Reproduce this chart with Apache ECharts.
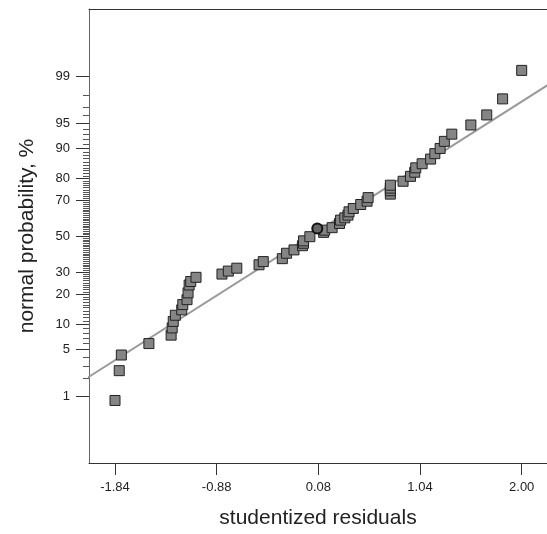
<!DOCTYPE html>
<html>
<head>
<meta charset="utf-8">
<script src="https://cdn.jsdelivr.net/npm/echarts@6/dist/echarts.min.js"></script>
<style>
html,body{margin:0;padding:0;background:#fff;}
#chart{width:547px;height:534px;}
</style>
</head>
<body>
<div id="chart"></div>
<script>
// ---- data ----
const residuals = [-1.84, -1.80, -1.78, -1.52, -1.31, -1.30, -1.29, -1.27, -1.21, -1.20,
  -1.16, -1.15, -1.14, -1.125, -1.075, -0.83, -0.77, -0.69, -0.48, -0.44,
  -0.26, -0.22, -0.15, -0.07, -0.06, -0.06, 0.00, 0.13, 0.14, 0.21,
  0.28, 0.29, 0.33, 0.36, 0.37, 0.41, 0.48, 0.54, 0.55, 0.76,
  0.76, 0.76, 0.76, 0.88, 0.95, 0.99, 1.00, 1.06, 1.14, 1.18,
  1.23, 1.27, 1.34, 1.52, 1.67, 1.82, 2.00];
const probabilities = [0.86, 2.56, 4.25, 5.98, 7.58, 9.19, 10.84, 12.6, 14.3, 16.1,
  17.9, 20.6, 24.0, 25.6, 27.6, 29.2, 30.7, 32.2, 34.0, 35.7,
  37.3, 40.3, 42.2, 44.6, 46.0, 47.4, 49.8, 52.3, 53.6, 55.0,
  57.4, 59.3, 60.6, 62.1, 63.9, 65.7, 67.8, 69.5, 71.3, 73.0,
  74.6, 75.8, 77.1, 78.8, 80.8, 82.4, 84.0, 85.4, 86.9, 88.5,
  89.9, 91.6, 93.1, 94.7, 96.1, 97.7, 99.2];
const highlightX = [0.07];
const highlightP = [54.5];
const refLineX = [-2.1, 2.35];
const refLineP = [2.01, 98.92];
const xTickValues = [-1.84, -0.88, 0.08, 1.04, 2.00];
const yMajorPct = [1, 5, 10, 20, 30, 50, 70, 80, 90, 95, 99];
const yMinorPct = [2, 3, 4, 6, 7, 8, 9,
  11, 12, 13, 14, 15, 16, 17, 18, 19,
  21, 22, 23, 24, 25, 26, 27, 28, 29,
  31, 32, 33, 34, 35, 36, 37, 38, 39, 40, 41, 42, 43, 44, 45, 46, 47, 48, 49,
  51, 52, 53, 54, 55, 56, 57, 58, 59, 60, 61, 62, 63, 64, 65, 66, 67, 68, 69,
  71, 72, 73, 74, 75, 76, 77, 78, 79,
  81, 82, 83, 84, 85, 86, 87, 88, 89,
  91, 92, 93, 94, 96, 97, 98];

// ---- probit scale (inverse normal CDF) ----
function probit(p) {
  const a=[-3.969683028665376e+01,2.209460984245205e+02,-2.759285104469687e+02,1.383577518672690e+02,-3.066479806614716e+01,2.506628277459239e+00];
  const b=[-5.447609879822406e+01,1.615858368580409e+02,-1.556989798598866e+02,6.680131188771972e+01,-1.328068155288572e+01];
  const c=[-7.784894002430293e-03,-3.223964580411365e-01,-2.400758277161838e+00,-2.549732539343734e+00,4.374664141464968e+00,2.938163982698783e+00];
  const d=[7.784695709041462e-03,3.224671290700398e-01,2.445134137142996e+00,3.754408661907416e+00];
  const pl=0.02425, ph=1-pl;
  let q, r;
  if (p < pl) { q=Math.sqrt(-2*Math.log(p)); return (((((c[0]*q+c[1])*q+c[2])*q+c[3])*q+c[4])*q+c[5])/((((d[0]*q+d[1])*q+d[2])*q+d[3])*q+1); }
  if (p <= ph) { q=p-0.5; r=q*q; return (((((a[0]*r+a[1])*r+a[2])*r+a[3])*r+a[4])*r+a[5])*q/(((((b[0]*r+b[1])*r+b[2])*r+b[3])*r+b[4])*r+1); }
  q=Math.sqrt(-2*Math.log(1-p));
  return -(((((c[0]*q+c[1])*q+c[2])*q+c[3])*q+c[4])*q+c[5])/((((d[0]*q+d[1])*q+d[2])*q+d[3])*q+1);
}
const pz = pct => probit(pct/100);

const majorZ = yMajorPct.map(pz);
const minorZ = yMinorPct.map(pz);
function yLabel(v) {
  for (let i = 0; i < majorZ.length; i++) if (Math.abs(majorZ[i]-v) < 1e-6) return String(yMajorPct[i]);
  return '';
}

const pts = residuals.map((x, i) => [x, pz(probabilities[i])]);
const hl = highlightX.map((x, i) => [x, pz(highlightP[i])]);
const ref = refLineX.map((x, i) => [x, pz(refLineP[i])]);

const FONT = '"Liberation Sans", Arial, Helvetica, sans-serif';
const X_MIN = -2.0855, X_MAX = 2.239;
const chart = echarts.init(document.getElementById('chart'), null, {renderer: 'canvas'});
chart.setOption({
  animation: false,
  backgroundColor: '#fff',
  grid: {left: 89, top: 9, right: 0, bottom: 68, show: false},
  xAxis: [{
    type: 'value', min: X_MIN, max: X_MAX, position: 'bottom',
    axisLine: {show: true, onZero: false, lineStyle: {color: '#333', width: 1}},
    axisTick: {show: true, customValues: xTickValues, length: 12, lineStyle: {color: '#333'}},
    axisLabel: {show: true, customValues: xTickValues, margin: 18, color: '#222', fontSize: 13, fontFamily: FONT,
      formatter: v => v.toFixed(2)},
    splitLine: {show: false},
    name: 'studentized residuals', nameLocation: 'middle', nameGap: 45,
    nameTextStyle: {fontSize: 21, color: '#222', fontFamily: FONT}
  }, {
    type: 'value', min: X_MIN, max: X_MAX, position: 'top',
    axisLine: {show: true, onZero: false, lineStyle: {color: '#333', width: 1}},
    axisTick: {show: false}, axisLabel: {show: false}, splitLine: {show: false}
  }],
  yAxis: [{
    type: 'value', min: -3.29, max: 3.30, position: 'left',
    axisLine: {show: true, onZero: false, lineStyle: {color: '#666', width: 1}},
    axisTick: {show: true, customValues: majorZ, length: 13, lineStyle: {color: '#333'}},
    axisLabel: {show: true, customValues: majorZ, margin: 19, color: '#222', fontSize: 13, fontFamily: FONT,
      formatter: v => yLabel(v)},
    splitLine: {show: false},
    name: 'normal probability, %', nameLocation: 'middle', nameGap: 51,
    nameTextStyle: {fontSize: 21, color: '#222', fontFamily: FONT}
  }, {
    type: 'value', min: -3.29, max: 3.30, position: 'left',
    axisLine: {show: false, onZero: false},
    axisTick: {show: true, customValues: minorZ, length: 6, lineStyle: {color: '#555'}},
    axisLabel: {show: false},
    splitLine: {show: false}
  }],
  series: [{
    type: 'line', data: ref, yAxisIndex: 0, symbol: 'none', silent: true, clip: true,
    lineStyle: {color: '#9a9a9a', width: 2}, z: 1
  }, {
    type: 'scatter', data: pts, yAxisIndex: 0, symbol: 'rect', symbolSize: 10,
    itemStyle: {color: '#858585', borderColor: '#222', borderWidth: 1, opacity: 1}, z: 2
  }, {
    type: 'scatter', data: hl, yAxisIndex: 0, symbol: 'circle', symbolSize: 10,
    itemStyle: {color: '#666', borderColor: '#111', borderWidth: 2, opacity: 1}, z: 3
  }]
});
</script>
</body>
</html>
